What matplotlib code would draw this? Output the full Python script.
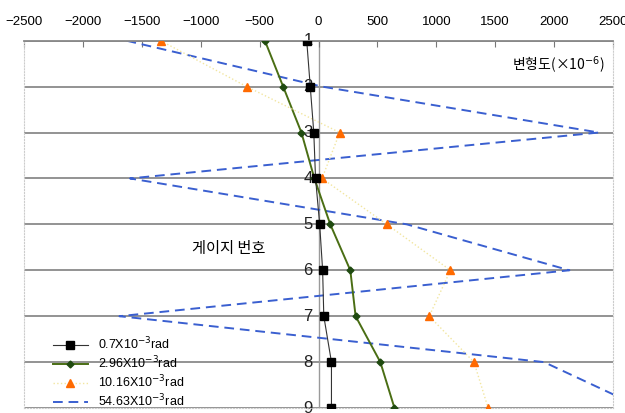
import matplotlib.pyplot as plt

plt.rcParams['font.family'] = ['Liberation Sans', 'Noto Sans CJK KR', 'DejaVu Sans']

GAUGES = [1, 2, 3, 4, 5, 6, 7, 8, 9]
STRAIN_070 = [-100, -70, -40, -25, 10, 35, 45, 110, 110]
STRAIN_296 = [-455, -300, -145, -35, 100, 270, 315, 525, 645]
STRAIN_1016 = [-1340, -610, 180, 30, 580, 1120, 940, 1320, 1440]
STRAIN_5463 = [-1630, 30, 2380, -1600, 750, 2130, -1690, 1915, 2750]

LABELS = [
    "0.7X10$^{-3}$rad",
    "2.96X10$^{-3}$rad",
    "10.16X10$^{-3}$rad",
    "54.63X10$^{-3}$rad",
]

fig = plt.figure(figsize=(6.25, 4.13), dpi=100)
ax = fig.add_axes([24 / 625, 0.012, 589 / 625, 0.8895])

# gridlines per gauge and the zero line
for g in GAUGES:
    ax.axhline(g, color="#8a8a8a", lw=1.3, zorder=1)
ax.axvline(0, color="#9a9a9a", lw=1.0, zorder=1)

ax.plot(STRAIN_070, GAUGES, color="#333333", lw=0.8, marker="s", ms=6,
        mfc="black", mec="black", label=LABELS[0], zorder=4)
ax.plot(STRAIN_296, GAUGES, color="#4a6e14", lw=1.4, marker="D", ms=3.5,
        mfc="#1f4a10", mec="#1f4a10", label=LABELS[1], zorder=3)
ax.plot(STRAIN_1016, GAUGES, color="#f2e6a0", lw=1.0, ls=":", marker="^", ms=6,
        mfc="#ff6a00", mec="#ff6a00", label=LABELS[2], zorder=3)
ax.plot(STRAIN_5463, GAUGES, color="#3a5fd0", lw=1.4, ls=(0, (5, 3)),
        label=LABELS[3], zorder=2)

# gauge numbers next to the zero line (partly hidden by the squares)
for g in GAUGES:
    ax.text(-50, g, str(g), ha="right", va="center", fontsize=12,
            color="#222222", zorder=2.5)

ax.set_xlim(-2500, 2500)
ax.set_ylim(9, 1)
ax.set_xticks(range(-2500, 2501, 500))
ax.xaxis.tick_top()
ax.tick_params(axis="x", direction="in", length=4, labelsize=9.5, pad=9,
               color="#777777")
ax.set_yticks([])

for side in ["left", "right", "bottom"]:
    ax.spines[side].set_color("#cccccc")
    ax.spines[side].set_linestyle(":")
ax.spines["top"].set_color("#888888")
ax.spines["top"].set_linewidth(1.3)

ax.text(0.985, 0.935, "변형도(×10$^{-6}$)", transform=ax.transAxes,
        ha="right", va="center", fontsize=10,
        family=["Noto Sans CJK KR", "DejaVu Sans"])
ax.text(-760, 5.52, "게이지 번호", ha="center", va="center", fontsize=11,
        family=["Noto Sans CJK KR", "DejaVu Sans"])

ax.legend(loc="lower left", bbox_to_anchor=(0.03, -0.035), frameon=False,
          fontsize=9, handlelength=2.8, labelspacing=0.2)

fig.savefig("out.png", dpi=100)
